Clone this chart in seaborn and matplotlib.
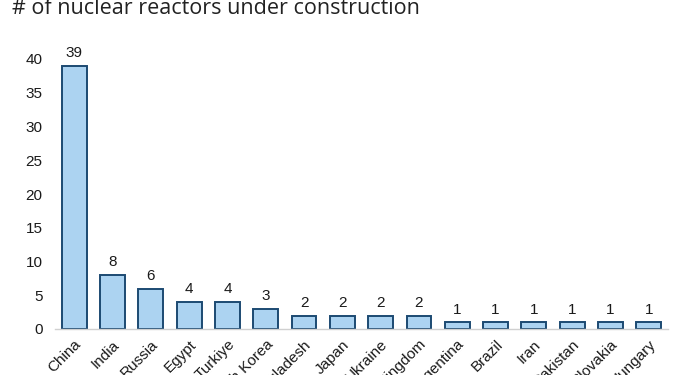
import matplotlib
matplotlib.use("Agg")
import matplotlib.pyplot as plt
import seaborn as sns
import pandas as pd

# Data
countries = ["China", "India", "Russia", "Egypt", "Turkiye", "South Korea",
             "Bangladesh", "Japan", "Ukraine", "United Kingdom", "Argentina",
             "Brazil", "Iran", "Pakistan", "Slovakia", "Hungary"]
reactors = [39, 8, 6, 4, 4, 3, 2, 2, 2, 2, 1, 1, 1, 1, 1, 1]
y_ticks = [0, 5, 10, 15, 20, 25, 30, 35, 40]
title = "# of nuclear reactors under construction"

bar_fill = "#acd3f1"
bar_edge = "#1c4a72"

df = pd.DataFrame({"country": countries, "reactors": reactors})

sns.set_style("white")
plt.rcParams["font.family"] = ["Liberation Sans", "DejaVu Sans"]

fig = plt.figure(figsize=(7, 3.75), dpi=100)
ax = fig.add_axes([55/700, 46/375, 613/700, 270/375])

sns.barplot(data=df, x="country", y="reactors", color=bar_fill,
            edgecolor=bar_edge, linewidth=1.4, width=0.65, saturation=1, ax=ax)

ax.bar_label(ax.containers[0], labels=[str(v) for v in reactors],
             padding=4, fontsize=11, color="#1a1a1a")

ax.set_ylim(0, 40)
ax.set_xlim(-0.5, len(countries) - 0.5)
ax.set_yticks(y_ticks)
ax.set_xlabel("")
ax.set_ylabel("")
ax.tick_params(axis="both", length=0, labelsize=11, colors="#1a1a1a")
ax.tick_params(axis="y", pad=9)
ax.set_xticks(range(len(countries)))
ax.set_xticklabels(countries, rotation=45, ha="right", rotation_mode="anchor")
ax.tick_params(axis="x", pad=6)

for s in ["top", "right", "left"]:
    ax.spines[s].set_visible(False)
ax.spines["bottom"].set_color("#d0d0d0")
ax.spines["bottom"].set_linewidth(1)

fig.text(12/700, 1 - 14/375, title, fontsize=15.5, color="#222222",
         family=["Open Sans", "DejaVu Sans"], va="baseline", ha="left")

fig.savefig("out.png", dpi=100)
